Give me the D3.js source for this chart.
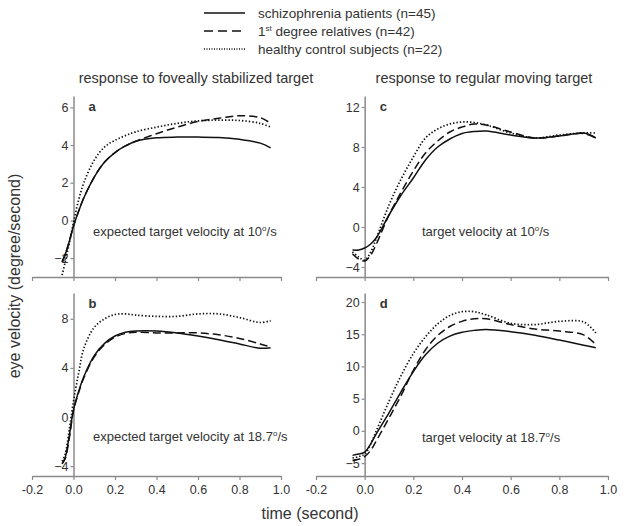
<!DOCTYPE html>
<html><head><meta charset="utf-8">
<script src="https://cdn.jsdelivr.net/npm/d3@7/dist/d3.min.js"></script>
<style>
body{margin:0;background:#fff;}
text{font-family:"Liberation Sans",Arial,sans-serif;fill:#333;}
</style></head>
<body><svg id="chart" width="624" height="526"></svg>
<script>
// ---------- data ----------
const seriesNames = ["schizophrenia patients (n=45)", "degree relatives (n=42)", "healthy control subjects (n=22)"];
const xTicks = [-0.2, 0.0, 0.2, 0.4, 0.6, 0.8, 1.0];

const timeLeft = [-0.055, -0.04, -0.02, 0, 0.025, 0.05, 0.1, 0.15, 0.2, 0.25, 0.3, 0.4, 0.5, 0.6, 0.7, 0.8, 0.9, 0.95];
const timeRight = [-0.05, -0.025, 0, 0.025, 0.05, 0.1, 0.15, 0.2, 0.25, 0.3, 0.35, 0.4, 0.45, 0.5, 0.6, 0.7, 0.8, 0.9, 0.95];

const aSchizo   = [-2.2, -1.8, -1.1, -0.3, 0.5, 1.2, 2.3, 3.1, 3.6, 3.95, 4.2, 4.38, 4.42, 4.42, 4.4, 4.3, 4.1, 3.85];
const aRelative = [-2.2, -1.8, -1.1, -0.3, 0.5, 1.2, 2.3, 3.1, 3.6, 3.95, 4.2, 4.6, 4.95, 5.25, 5.42, 5.55, 5.45, 5.15];
const aControl  = [-2.9, -2.2, -1.2, -0.1, 1.1, 2.0, 3.2, 3.9, 4.25, 4.5, 4.7, 4.95, 5.15, 5.28, 5.32, 5.3, 5.15, 4.95];

const bSchizo   = [-3.8, -3.3, -1.5, 0.6, 2.1, 3.3, 5.0, 6.0, 6.6, 6.9, 7.0, 7.0, 6.85, 6.6, 6.3, 5.95, 5.6, 5.65];
const bRelative = [-3.8, -3.4, -1.7, 0.5, 2.0, 3.2, 4.9, 5.9, 6.5, 6.8, 6.9, 6.85, 6.85, 6.85, 6.7, 6.4, 5.95, 5.7];
const bControl  = [-3.6, -3.0, -1.0, 1.3, 3.6, 5.6, 7.3, 8.0, 8.35, 8.4, 8.3, 8.2, 8.2, 8.4, 8.4, 8.1, 7.7, 7.85];

const cSchizo   = [-2.3, -2.3, -2.1, -1.7, -1.0, 1.2, 3.2, 4.9, 6.7, 8.0, 8.8, 9.35, 9.55, 9.6, 9.2, 8.9, 9.1, 9.4, 8.9];
const cRelative = [-2.7, -3.2, -3.4, -2.8, -1.6, 1.2, 3.5, 5.6, 7.4, 8.6, 9.5, 10.0, 10.3, 10.2, 9.5, 8.9, 9.1, 9.35, 8.9];
const cControl  = [-2.5, -3.0, -3.3, -2.5, -1.0, 2.2, 4.8, 7.0, 8.9, 9.8, 10.3, 10.5, 10.45, 10.2, 9.4, 8.9, 9.2, 9.4, 9.4];

const dSchizo   = [-3.8, -3.6, -3.3, -2.0, -0.3, 2.8, 6.1, 9.2, 11.8, 13.6, 14.7, 15.3, 15.6, 15.75, 15.4, 14.85, 14.1, 13.3, 12.9];
const dRelative = [-4.6, -4.4, -4.0, -3.0, -1.4, 2.0, 5.5, 9.4, 12.6, 14.8, 16.2, 17.0, 17.4, 17.4, 16.5, 15.8, 15.5, 14.9, 13.4];
const dControl  = [-4.2, -4.0, -3.6, -2.0, 0.2, 4.6, 8.6, 12.0, 14.6, 16.6, 17.9, 18.5, 18.5, 18.0, 16.7, 16.5, 17.0, 16.9, 15.2];

const aTicks = [-2, 0, 2, 4, 6];
const bTicks = [-4, 0, 4, 8];
const cTicks = [-4, 0, 4, 8, 12];
const dTicks = [-5, 0, 5, 10, 15, 20];

// ---------- drawing ----------
const svg = d3.select("#chart");
const dashes = [null, "8,4", "1.4,2"];
const axisColor = "#8a8a8a";

const panels = [
  {letter:"a", time:timeLeft, series:[aSchizo,aRelative,aControl], yDom:[-3,6.6], yTicks:aTicks,
   xr:[32,281], yr:[277,96], labels:false, note:["expected target velocity at 10","/s"], noteX:93, noteY:236},
  {letter:"b", time:timeLeft, series:[bSchizo,bRelative,bControl], yDom:[-4.8,10.1], yTicks:bTicks,
   xr:[32,281], yr:[476,293], labels:true, note:["expected target velocity at 18.7","/s"], noteX:93, noteY:441},
  {letter:"c", time:timeRight, series:[cSchizo,cRelative,cControl], yDom:[-5,13.1], yTicks:cTicks,
   xr:[316,608], yr:[277,96], labels:false, note:["target velocity at 10","/s"], noteX:422, noteY:236},
  {letter:"d", time:timeRight, series:[dSchizo,dRelative,dControl], yDom:[-7,21.4], yTicks:dTicks,
   xr:[316,608], yr:[476,293], labels:true, note:["target velocity at 18.7","/s"], noteX:422, noteY:442}
];

function sup(textSel, base, after){
  textSel.append("tspan").text(base);
  textSel.append("tspan").attr("dy",-5).style("font-size","8px").text("o");
  textSel.append("tspan").attr("dy",5).text(after);
}

panels.forEach(p=>{
  const x = d3.scaleLinear().domain([-0.2,1.0]).range(p.xr);
  const y = d3.scaleLinear().domain(p.yDom).range(p.yr);
  const g = svg.append("g");

  // x axis
  const xa = g.append("g").attr("transform",`translate(0,${p.yr[0]})`)
    .call(d3.axisBottom(x).tickValues(xTicks).tickSize(4).tickSizeOuter(0)
      .tickFormat(p.labels ? d3.format(".1f") : ""));
  xa.select(".domain").attr("stroke",axisColor).attr("stroke-width",1.5);
  xa.selectAll(".tick line").attr("stroke",axisColor).attr("stroke-width",1.2);
  xa.selectAll(".tick text").attr("fill","#333").style("font-size","12.5px")
    .style("font-family","'Liberation Sans',Arial,sans-serif").attr("dy","0.9em")
    .text(d=>p.labels ? d.toFixed(1) : "");

  // y axis at x = 0
  const ya = g.append("g").attr("transform",`translate(${x(0)},0)`)
    .call(d3.axisLeft(y).tickValues(p.yTicks).tickSize(3).tickSizeOuter(0).tickFormat(d3.format("d")));
  ya.select(".domain").attr("stroke",axisColor).attr("stroke-width",1.5);
  ya.selectAll(".tick line").attr("stroke",axisColor).attr("stroke-width",1.2);
  ya.selectAll(".tick text").attr("fill","#333").style("font-size","12.5px")
    .style("font-family","'Liberation Sans',Arial,sans-serif").attr("x",-5);

  // lines
  const line = d3.line().x(d=>x(d[0])).y(d=>y(d[1])).curve(d3.curveCatmullRom.alpha(0.5));
  p.series.forEach((vals,i)=>{
    const pts = p.time.map((t,j)=>[t, vals[j]]);
    g.append("path").datum(pts).attr("d",line).attr("fill","none")
      .attr("stroke","#111").attr("stroke-width", i===2 ? 1.7 : 1.5)
      .attr("stroke-dasharray", dashes[i]);
  });

  // letter
  g.append("text").attr("x", x(0)+15).attr("y", p.yr[1]+15)
    .style("font-size","13px").style("font-weight","bold").text(p.letter);

  // annotation
  const t = g.append("text").attr("x",p.noteX).attr("y",p.noteY).style("font-size","13px");
  sup(t, p.note[0], p.note[1]);
});

// titles
svg.append("text").attr("x",196).attr("y",83).attr("text-anchor","middle").style("font-size","14.5px")
  .text("response to foveally stabilized target");
svg.append("text").attr("x",484).attr("y",83).attr("text-anchor","middle").style("font-size","14.5px")
  .text("response to regular moving target");

// axis titles
svg.append("text").attr("x",310).attr("y",519).attr("text-anchor","middle").style("font-size","16px")
  .text("time (second)");
svg.append("text").attr("transform","translate(20,276) rotate(-90)").attr("text-anchor","middle")
  .style("font-size","16px").text("eye velocity (degree/second)");

// legend
const legY = [13, 31, 49];
seriesNames.forEach((name,i)=>{
  svg.append("line").attr("x1",204).attr("x2",245).attr("y1",legY[i]).attr("y2",legY[i])
    .attr("stroke","#111").attr("stroke-width", i===2 ? 1.3 : 1.5)
    .attr("stroke-dasharray", i===1 ? "9,5" : (i===2 ? "1,1.5" : null));
  const t = svg.append("text").attr("x",258).attr("y",legY[i]+5).style("font-size","13.5px");
  if(i===1){
    t.append("tspan").text("1");
    t.append("tspan").attr("dy",-5).style("font-size","8px").text("st");
    t.append("tspan").attr("dy",5).text(" " + name);
  } else {
    t.text(name);
  }
});
</script>
</body></html>
